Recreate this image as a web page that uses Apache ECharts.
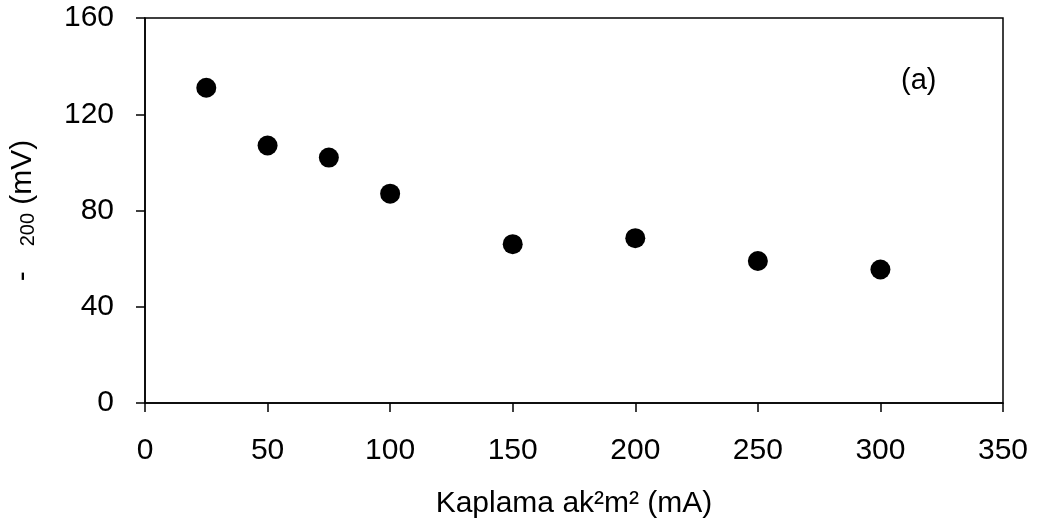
<!DOCTYPE html>
<html><head><meta charset="utf-8">
<script src="https://cdn.jsdelivr.net/npm/echarts@6/dist/echarts.min.js"></script>
<style>html,body{margin:0;padding:0;background:#fff}#c{width:1039px;height:527px}</style>
</head><body><div id="c"></div>
<script>
const xValues = [25, 50, 75, 100, 150, 200, 250, 300];
const yValues = [131, 107, 102, 87, 66, 68.5, 59, 55.5];
const xTicks = [0, 50, 100, 150, 200, 250, 300, 350];
const yTicks = [0, 40, 80, 120, 160];
const xTitle = 'Kaplama ak²m² (mA)';
const panelLabel = '(a)';

const font = 'Liberation Sans, Arial, sans-serif';
const chart = echarts.init(document.getElementById('c'));
chart.setOption({
  animation: false,
  backgroundColor: '#fff',
  grid: {left: 145, right: 36, top: 18, bottom: 124, show: true, borderColor: '#000', borderWidth: 1.5, backgroundColor: 'transparent'},
  xAxis: {
    type: 'value', min: xTicks[0], max: xTicks[xTicks.length-1], interval: 50,
    axisLine: {show: true, onZero: false, lineStyle: {color: '#000', width: 1.5}},
    axisTick: {show: true, inside: false, length: 9, lineStyle: {color: '#000', width: 1.5}},
    axisLabel: {color: '#000', fontSize: 30, fontFamily: font, margin: 33},
    splitLine: {show: false},
    name: xTitle, nameLocation: 'middle', nameGap: 86,
    nameTextStyle: {color: '#000', fontSize: 30, fontFamily: font}
  },
  yAxis: {
    type: 'value', min: yTicks[0], max: yTicks[yTicks.length-1], interval: 40,
    axisLine: {show: true, onZero: false, lineStyle: {color: '#000', width: 1.5}},
    axisTick: {show: true, inside: false, length: 9, lineStyle: {color: '#000', width: 1.5}},
    axisLabel: {color: '#000', fontSize: 30, fontFamily: font, margin: 31},
    splitLine: {show: false},
    name: '-   {s|200} (mV)', nameLocation: 'middle', nameGap: 107,
    nameTextStyle: {color: '#000', fontSize: 30, fontFamily: font,
      rich: {s: {fontSize: 20, fontFamily: font, color: '#000', verticalAlign: 'bottom'}}}
  },
  series: [{
    type: 'scatter',
    data: xValues.map((x, i) => [x, yValues[i]]),
    symbol: 'circle', symbolSize: 20,
    itemStyle: {color: '#000', opacity: 1}
  }],
  graphic: [{
    type: 'text', left: 901, top: 66,
    style: {text: panelLabel, fontSize: 29, fontFamily: font, fill: '#000'}
  }]
});
</script></body></html>
